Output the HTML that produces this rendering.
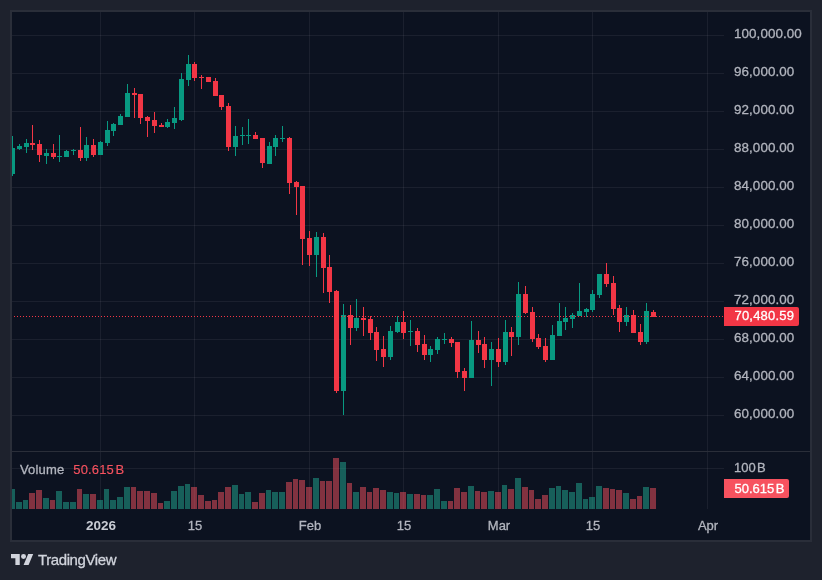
<!DOCTYPE html>
<html><head><meta charset="utf-8"><title>Chart</title>
<style>
html,body{margin:0;padding:0;}
body{width:822px;height:580px;background:#1e222d;position:relative;overflow:hidden;font-family:"Liberation Sans",sans-serif;}
#frame{position:absolute;left:10px;top:10px;width:798px;height:528px;border:2px solid #2a2e39;background:#0c1220;}
#chart{position:absolute;left:0;top:0;}
.pl,.tl,#pricetag,#voltag,#vol100,#vlabel,#logotxt{will-change:transform;-webkit-text-stroke:0.3px currentColor;}
.pl{position:absolute;left:733.7px;height:18px;line-height:18px;font-size:13.4px;letter-spacing:0.08px;color:#b2b5be;white-space:nowrap;}
.tl{position:absolute;top:517px;width:60px;text-align:center;height:18px;line-height:18px;font-size:13px;color:#b2b5be;white-space:nowrap;}
.tl.b{font-weight:bold;color:#c9ccd4;font-size:13.5px;-webkit-text-stroke:0;}
#pricetag{position:absolute;left:724px;top:307px;width:75px;height:19px;background:#f23645;border-radius:0 2px 2px 0;color:#fff;font-size:13px;letter-spacing:0.2px;line-height:17px;box-sizing:border-box;padding-left:10.5px;white-space:nowrap;}
#voltag{position:absolute;left:724px;top:479px;width:65px;height:19px;background:#f7525f;border-radius:0 2px 2px 0;color:#fff;font-size:13px;line-height:19px;box-sizing:border-box;padding-left:10.5px;white-space:nowrap;}
#vol100{position:absolute;left:733.5px;top:459px;height:18px;line-height:18px;font-size:13px;color:#b2b5be;white-space:nowrap;}
#vlabel{position:absolute;left:20px;top:461px;height:18px;line-height:18px;font-size:13px;letter-spacing:0.15px;color:#b2b5be;white-space:nowrap;}
#vlabel span{color:#f7525f;margin-left:9px;-webkit-text-stroke:0.15px currentColor;}
.ts{font-size:5px;}
#logo{position:absolute;left:11px;top:553.8px;}
#logotxt{position:absolute;left:37.5px;top:551px;height:18px;line-height:18px;font-size:15px;letter-spacing:-0.4px;color:#d1d4dc;white-space:nowrap;}
</style></head><body>
<div id="frame"></div>
<svg id="chart" width="822" height="580" viewBox="0 0 822 580" shape-rendering="crispEdges">
<rect x="12" y="35" width="712" height="1" fill="rgba(240,243,250,0.068)"/>
<rect x="12" y="73" width="712" height="1" fill="rgba(240,243,250,0.068)"/>
<rect x="12" y="111" width="712" height="1" fill="rgba(240,243,250,0.068)"/>
<rect x="12" y="149" width="712" height="1" fill="rgba(240,243,250,0.068)"/>
<rect x="12" y="187" width="712" height="1" fill="rgba(240,243,250,0.068)"/>
<rect x="12" y="225" width="712" height="1" fill="rgba(240,243,250,0.068)"/>
<rect x="12" y="263" width="712" height="1" fill="rgba(240,243,250,0.068)"/>
<rect x="12" y="301" width="712" height="1" fill="rgba(240,243,250,0.068)"/>
<rect x="12" y="339" width="712" height="1" fill="rgba(240,243,250,0.068)"/>
<rect x="12" y="377" width="712" height="1" fill="rgba(240,243,250,0.068)"/>
<rect x="12" y="415" width="712" height="1" fill="rgba(240,243,250,0.068)"/>
<rect x="12" y="468" width="712" height="1" fill="rgba(240,243,250,0.068)"/>
<rect x="100" y="12" width="1" height="497" fill="rgba(240,243,250,0.068)"/>
<rect x="194" y="12" width="1" height="497" fill="rgba(240,243,250,0.068)"/>
<rect x="309" y="12" width="1" height="497" fill="rgba(240,243,250,0.068)"/>
<rect x="403" y="12" width="1" height="497" fill="rgba(240,243,250,0.068)"/>
<rect x="498" y="12" width="1" height="497" fill="rgba(240,243,250,0.068)"/>
<rect x="592" y="12" width="1" height="497" fill="rgba(240,243,250,0.068)"/>
<rect x="707" y="12" width="1" height="497" fill="rgba(240,243,250,0.068)"/>
<rect x="12" y="451" width="798" height="1" fill="#2a2e39"/>
<rect x="12" y="489" width="3" height="20" fill="rgba(34,171,148,0.5)"/>
<rect x="16" y="502" width="6" height="7" fill="rgba(34,171,148,0.5)"/>
<rect x="23" y="500" width="5" height="9" fill="rgba(34,171,148,0.5)"/>
<rect x="29" y="493" width="6" height="16" fill="rgba(247,82,95,0.5)"/>
<rect x="36" y="490" width="6" height="19" fill="rgba(247,82,95,0.5)"/>
<rect x="43" y="498" width="6" height="11" fill="rgba(34,171,148,0.5)"/>
<rect x="50" y="500" width="5" height="9" fill="rgba(247,82,95,0.5)"/>
<rect x="56" y="491" width="6" height="18" fill="rgba(34,171,148,0.5)"/>
<rect x="63" y="502" width="6" height="7" fill="rgba(34,171,148,0.5)"/>
<rect x="70" y="502" width="6" height="7" fill="rgba(34,171,148,0.5)"/>
<rect x="77" y="489" width="5" height="20" fill="rgba(247,82,95,0.5)"/>
<rect x="83" y="494" width="6" height="15" fill="rgba(34,171,148,0.5)"/>
<rect x="90" y="494" width="6" height="15" fill="rgba(247,82,95,0.5)"/>
<rect x="97" y="500" width="6" height="9" fill="rgba(34,171,148,0.5)"/>
<rect x="104" y="489" width="5" height="20" fill="rgba(34,171,148,0.5)"/>
<rect x="110" y="500" width="6" height="9" fill="rgba(34,171,148,0.5)"/>
<rect x="117" y="497" width="6" height="12" fill="rgba(34,171,148,0.5)"/>
<rect x="124" y="487" width="6" height="22" fill="rgba(34,171,148,0.5)"/>
<rect x="131" y="487" width="5" height="22" fill="rgba(247,82,95,0.5)"/>
<rect x="137" y="491" width="6" height="18" fill="rgba(247,82,95,0.5)"/>
<rect x="144" y="491" width="6" height="18" fill="rgba(247,82,95,0.5)"/>
<rect x="151" y="493" width="6" height="16" fill="rgba(247,82,95,0.5)"/>
<rect x="158" y="503" width="5" height="6" fill="rgba(247,82,95,0.5)"/>
<rect x="164" y="501" width="6" height="8" fill="rgba(34,171,148,0.5)"/>
<rect x="171" y="491" width="6" height="18" fill="rgba(34,171,148,0.5)"/>
<rect x="178" y="486" width="6" height="23" fill="rgba(34,171,148,0.5)"/>
<rect x="185" y="484" width="5" height="25" fill="rgba(34,171,148,0.5)"/>
<rect x="191" y="487" width="6" height="22" fill="rgba(247,82,95,0.5)"/>
<rect x="198" y="495" width="6" height="14" fill="rgba(247,82,95,0.5)"/>
<rect x="205" y="501" width="6" height="8" fill="rgba(247,82,95,0.5)"/>
<rect x="212" y="500" width="5" height="9" fill="rgba(247,82,95,0.5)"/>
<rect x="218" y="492" width="6" height="17" fill="rgba(247,82,95,0.5)"/>
<rect x="225" y="487" width="6" height="22" fill="rgba(247,82,95,0.5)"/>
<rect x="232" y="485" width="6" height="24" fill="rgba(34,171,148,0.5)"/>
<rect x="239" y="494" width="5" height="15" fill="rgba(34,171,148,0.5)"/>
<rect x="245" y="492" width="6" height="17" fill="rgba(34,171,148,0.5)"/>
<rect x="252" y="502" width="6" height="7" fill="rgba(247,82,95,0.5)"/>
<rect x="259" y="493" width="6" height="16" fill="rgba(247,82,95,0.5)"/>
<rect x="266" y="490" width="5" height="19" fill="rgba(34,171,148,0.5)"/>
<rect x="272" y="492" width="6" height="17" fill="rgba(34,171,148,0.5)"/>
<rect x="279" y="492" width="6" height="17" fill="rgba(34,171,148,0.5)"/>
<rect x="286" y="482" width="6" height="27" fill="rgba(247,82,95,0.5)"/>
<rect x="293" y="479" width="5" height="30" fill="rgba(247,82,95,0.5)"/>
<rect x="299" y="480" width="6" height="29" fill="rgba(247,82,95,0.5)"/>
<rect x="306" y="487" width="6" height="22" fill="rgba(247,82,95,0.5)"/>
<rect x="313" y="478" width="6" height="31" fill="rgba(34,171,148,0.5)"/>
<rect x="320" y="481" width="5" height="28" fill="rgba(247,82,95,0.5)"/>
<rect x="326" y="481" width="6" height="28" fill="rgba(247,82,95,0.5)"/>
<rect x="333" y="458" width="6" height="51" fill="rgba(247,82,95,0.5)"/>
<rect x="340" y="462" width="6" height="47" fill="rgba(34,171,148,0.5)"/>
<rect x="347" y="483" width="5" height="26" fill="rgba(247,82,95,0.5)"/>
<rect x="353" y="492" width="6" height="17" fill="rgba(34,171,148,0.5)"/>
<rect x="360" y="487" width="6" height="22" fill="rgba(247,82,95,0.5)"/>
<rect x="367" y="492" width="5" height="17" fill="rgba(247,82,95,0.5)"/>
<rect x="373" y="488" width="6" height="21" fill="rgba(247,82,95,0.5)"/>
<rect x="380" y="490" width="6" height="19" fill="rgba(247,82,95,0.5)"/>
<rect x="387" y="492" width="6" height="17" fill="rgba(34,171,148,0.5)"/>
<rect x="394" y="493" width="5" height="16" fill="rgba(34,171,148,0.5)"/>
<rect x="400" y="492" width="6" height="17" fill="rgba(247,82,95,0.5)"/>
<rect x="407" y="494" width="6" height="15" fill="rgba(34,171,148,0.5)"/>
<rect x="414" y="494" width="6" height="15" fill="rgba(247,82,95,0.5)"/>
<rect x="421" y="495" width="5" height="14" fill="rgba(247,82,95,0.5)"/>
<rect x="427" y="495" width="6" height="14" fill="rgba(34,171,148,0.5)"/>
<rect x="434" y="489" width="6" height="20" fill="rgba(34,171,148,0.5)"/>
<rect x="441" y="501" width="6" height="8" fill="rgba(34,171,148,0.5)"/>
<rect x="448" y="501" width="5" height="8" fill="rgba(247,82,95,0.5)"/>
<rect x="454" y="488" width="6" height="21" fill="rgba(247,82,95,0.5)"/>
<rect x="461" y="492" width="6" height="17" fill="rgba(247,82,95,0.5)"/>
<rect x="468" y="486" width="6" height="23" fill="rgba(34,171,148,0.5)"/>
<rect x="475" y="491" width="5" height="18" fill="rgba(247,82,95,0.5)"/>
<rect x="481" y="492" width="6" height="17" fill="rgba(247,82,95,0.5)"/>
<rect x="488" y="491" width="6" height="18" fill="rgba(34,171,148,0.5)"/>
<rect x="495" y="492" width="6" height="17" fill="rgba(247,82,95,0.5)"/>
<rect x="502" y="485" width="5" height="24" fill="rgba(34,171,148,0.5)"/>
<rect x="508" y="489" width="6" height="20" fill="rgba(247,82,95,0.5)"/>
<rect x="515" y="478" width="6" height="31" fill="rgba(34,171,148,0.5)"/>
<rect x="522" y="487" width="6" height="22" fill="rgba(247,82,95,0.5)"/>
<rect x="529" y="490" width="5" height="19" fill="rgba(247,82,95,0.5)"/>
<rect x="535" y="499" width="6" height="10" fill="rgba(247,82,95,0.5)"/>
<rect x="542" y="495" width="6" height="14" fill="rgba(247,82,95,0.5)"/>
<rect x="549" y="488" width="6" height="21" fill="rgba(34,171,148,0.5)"/>
<rect x="556" y="486" width="5" height="23" fill="rgba(34,171,148,0.5)"/>
<rect x="562" y="490" width="6" height="19" fill="rgba(34,171,148,0.5)"/>
<rect x="569" y="492" width="6" height="17" fill="rgba(34,171,148,0.5)"/>
<rect x="576" y="483" width="6" height="26" fill="rgba(34,171,148,0.5)"/>
<rect x="583" y="499" width="5" height="10" fill="rgba(34,171,148,0.5)"/>
<rect x="589" y="497" width="6" height="12" fill="rgba(34,171,148,0.5)"/>
<rect x="596" y="486" width="6" height="23" fill="rgba(34,171,148,0.5)"/>
<rect x="603" y="488" width="6" height="21" fill="rgba(247,82,95,0.5)"/>
<rect x="610" y="489" width="5" height="20" fill="rgba(247,82,95,0.5)"/>
<rect x="616" y="490" width="6" height="19" fill="rgba(247,82,95,0.5)"/>
<rect x="623" y="493" width="6" height="16" fill="rgba(34,171,148,0.5)"/>
<rect x="630" y="499" width="6" height="10" fill="rgba(247,82,95,0.5)"/>
<rect x="637" y="496" width="5" height="13" fill="rgba(247,82,95,0.5)"/>
<rect x="643" y="487" width="6" height="22" fill="rgba(34,171,148,0.5)"/>
<rect x="650" y="488" width="6" height="21" fill="rgba(247,82,95,0.5)"/>
<rect x="12" y="136" width="1" height="40" fill="#089981"/>
<rect x="12" y="148" width="3" height="26" fill="#089981"/>
<rect x="19" y="144" width="1" height="6" fill="#089981"/>
<rect x="17" y="146" width="5" height="3" fill="#089981"/>
<rect x="26" y="139" width="1" height="14" fill="#089981"/>
<rect x="24" y="143" width="5" height="4" fill="#089981"/>
<rect x="32" y="125" width="1" height="25" fill="#f23645"/>
<rect x="30" y="143" width="5" height="2" fill="#f23645"/>
<rect x="39" y="140" width="1" height="22" fill="#f23645"/>
<rect x="37" y="144" width="5" height="11" fill="#f23645"/>
<rect x="46" y="149" width="1" height="15" fill="#089981"/>
<rect x="44" y="153" width="5" height="3" fill="#089981"/>
<rect x="53" y="144" width="1" height="15" fill="#f23645"/>
<rect x="51" y="153" width="5" height="4" fill="#f23645"/>
<rect x="59" y="135" width="1" height="27" fill="#089981"/>
<rect x="57" y="156" width="5" height="1" fill="#089981"/>
<rect x="66" y="150" width="1" height="7" fill="#089981"/>
<rect x="64" y="151" width="5" height="6" fill="#089981"/>
<rect x="73" y="149" width="1" height="6" fill="#089981"/>
<rect x="71" y="150" width="5" height="1" fill="#089981"/>
<rect x="80" y="127" width="1" height="34" fill="#f23645"/>
<rect x="78" y="150" width="5" height="8" fill="#f23645"/>
<rect x="86" y="137" width="1" height="24" fill="#089981"/>
<rect x="84" y="145" width="5" height="13" fill="#089981"/>
<rect x="93" y="139" width="1" height="18" fill="#f23645"/>
<rect x="91" y="145" width="5" height="10" fill="#f23645"/>
<rect x="100" y="141" width="1" height="14" fill="#089981"/>
<rect x="98" y="142" width="5" height="13" fill="#089981"/>
<rect x="107" y="121" width="1" height="25" fill="#089981"/>
<rect x="105" y="130" width="5" height="13" fill="#089981"/>
<rect x="113" y="123" width="1" height="13" fill="#089981"/>
<rect x="111" y="124" width="5" height="7" fill="#089981"/>
<rect x="120" y="114" width="1" height="11" fill="#089981"/>
<rect x="118" y="116" width="5" height="9" fill="#089981"/>
<rect x="127" y="84" width="1" height="33" fill="#089981"/>
<rect x="125" y="93" width="5" height="24" fill="#089981"/>
<rect x="134" y="88" width="1" height="30" fill="#f23645"/>
<rect x="132" y="93" width="5" height="2" fill="#f23645"/>
<rect x="140" y="94" width="1" height="30" fill="#f23645"/>
<rect x="138" y="94" width="5" height="24" fill="#f23645"/>
<rect x="147" y="116" width="1" height="21" fill="#f23645"/>
<rect x="145" y="117" width="5" height="4" fill="#f23645"/>
<rect x="154" y="112" width="1" height="21" fill="#f23645"/>
<rect x="152" y="120" width="5" height="6" fill="#f23645"/>
<rect x="161" y="123" width="1" height="4" fill="#f23645"/>
<rect x="159" y="125" width="5" height="2" fill="#f23645"/>
<rect x="167" y="119" width="1" height="9" fill="#089981"/>
<rect x="165" y="122" width="5" height="5" fill="#089981"/>
<rect x="174" y="107" width="1" height="22" fill="#089981"/>
<rect x="172" y="118" width="5" height="5" fill="#089981"/>
<rect x="181" y="73" width="1" height="48" fill="#089981"/>
<rect x="179" y="79" width="5" height="41" fill="#089981"/>
<rect x="188" y="55" width="1" height="31" fill="#089981"/>
<rect x="186" y="64" width="5" height="16" fill="#089981"/>
<rect x="194" y="62" width="1" height="19" fill="#f23645"/>
<rect x="192" y="64" width="5" height="14" fill="#f23645"/>
<rect x="201" y="75" width="1" height="14" fill="#f23645"/>
<rect x="199" y="77" width="5" height="1" fill="#f23645"/>
<rect x="208" y="77" width="1" height="5" fill="#f23645"/>
<rect x="206" y="77" width="5" height="5" fill="#f23645"/>
<rect x="215" y="78" width="1" height="18" fill="#f23645"/>
<rect x="213" y="81" width="5" height="15" fill="#f23645"/>
<rect x="221" y="95" width="1" height="15" fill="#f23645"/>
<rect x="219" y="95" width="5" height="12" fill="#f23645"/>
<rect x="228" y="103" width="1" height="48" fill="#f23645"/>
<rect x="226" y="106" width="5" height="41" fill="#f23645"/>
<rect x="235" y="126" width="1" height="30" fill="#089981"/>
<rect x="233" y="136" width="5" height="11" fill="#089981"/>
<rect x="242" y="127" width="1" height="18" fill="#089981"/>
<rect x="240" y="135" width="5" height="1" fill="#089981"/>
<rect x="248" y="119" width="1" height="25" fill="#089981"/>
<rect x="246" y="135" width="5" height="1" fill="#089981"/>
<rect x="255" y="132" width="1" height="7" fill="#f23645"/>
<rect x="253" y="135" width="5" height="4" fill="#f23645"/>
<rect x="262" y="138" width="1" height="30" fill="#f23645"/>
<rect x="260" y="138" width="5" height="25" fill="#f23645"/>
<rect x="269" y="142" width="1" height="22" fill="#089981"/>
<rect x="267" y="146" width="5" height="18" fill="#089981"/>
<rect x="275" y="135" width="1" height="21" fill="#089981"/>
<rect x="273" y="138" width="5" height="9" fill="#089981"/>
<rect x="282" y="126" width="1" height="16" fill="#089981"/>
<rect x="280" y="138" width="5" height="1" fill="#089981"/>
<rect x="289" y="137" width="1" height="57" fill="#f23645"/>
<rect x="287" y="138" width="5" height="45" fill="#f23645"/>
<rect x="296" y="181" width="1" height="34" fill="#f23645"/>
<rect x="294" y="182" width="5" height="5" fill="#f23645"/>
<rect x="302" y="186" width="1" height="79" fill="#f23645"/>
<rect x="300" y="186" width="5" height="53" fill="#f23645"/>
<rect x="309" y="231" width="1" height="35" fill="#f23645"/>
<rect x="307" y="238" width="5" height="17" fill="#f23645"/>
<rect x="316" y="232" width="1" height="45" fill="#089981"/>
<rect x="314" y="237" width="5" height="18" fill="#089981"/>
<rect x="323" y="233" width="1" height="60" fill="#f23645"/>
<rect x="321" y="237" width="5" height="31" fill="#f23645"/>
<rect x="329" y="255" width="1" height="48" fill="#f23645"/>
<rect x="327" y="267" width="5" height="25" fill="#f23645"/>
<rect x="336" y="290" width="1" height="103" fill="#f23645"/>
<rect x="334" y="291" width="5" height="100" fill="#f23645"/>
<rect x="343" y="304" width="1" height="111" fill="#089981"/>
<rect x="341" y="315" width="5" height="76" fill="#089981"/>
<rect x="350" y="305" width="1" height="40" fill="#f23645"/>
<rect x="348" y="315" width="5" height="13" fill="#f23645"/>
<rect x="356" y="299" width="1" height="32" fill="#089981"/>
<rect x="354" y="318" width="5" height="10" fill="#089981"/>
<rect x="363" y="307" width="1" height="29" fill="#f23645"/>
<rect x="361" y="318" width="5" height="2" fill="#f23645"/>
<rect x="370" y="316" width="1" height="24" fill="#f23645"/>
<rect x="368" y="319" width="5" height="14" fill="#f23645"/>
<rect x="376" y="327" width="1" height="34" fill="#f23645"/>
<rect x="374" y="332" width="5" height="18" fill="#f23645"/>
<rect x="383" y="336" width="1" height="31" fill="#f23645"/>
<rect x="381" y="349" width="5" height="8" fill="#f23645"/>
<rect x="390" y="326" width="1" height="34" fill="#089981"/>
<rect x="388" y="331" width="5" height="26" fill="#089981"/>
<rect x="397" y="316" width="1" height="17" fill="#089981"/>
<rect x="395" y="322" width="5" height="10" fill="#089981"/>
<rect x="403" y="311" width="1" height="28" fill="#f23645"/>
<rect x="401" y="322" width="5" height="11" fill="#f23645"/>
<rect x="410" y="320" width="1" height="26" fill="#089981"/>
<rect x="408" y="331" width="5" height="1" fill="#089981"/>
<rect x="417" y="328" width="1" height="24" fill="#f23645"/>
<rect x="415" y="331" width="5" height="14" fill="#f23645"/>
<rect x="424" y="335" width="1" height="25" fill="#f23645"/>
<rect x="422" y="344" width="5" height="11" fill="#f23645"/>
<rect x="430" y="346" width="1" height="16" fill="#089981"/>
<rect x="428" y="349" width="5" height="6" fill="#089981"/>
<rect x="437" y="337" width="1" height="17" fill="#089981"/>
<rect x="435" y="339" width="5" height="11" fill="#089981"/>
<rect x="444" y="333" width="1" height="11" fill="#089981"/>
<rect x="442" y="339" width="5" height="1" fill="#089981"/>
<rect x="451" y="337" width="1" height="10" fill="#f23645"/>
<rect x="449" y="339" width="5" height="4" fill="#f23645"/>
<rect x="457" y="342" width="1" height="36" fill="#f23645"/>
<rect x="455" y="342" width="5" height="30" fill="#f23645"/>
<rect x="464" y="368" width="1" height="23" fill="#f23645"/>
<rect x="462" y="371" width="5" height="7" fill="#f23645"/>
<rect x="471" y="321" width="1" height="57" fill="#089981"/>
<rect x="469" y="340" width="5" height="38" fill="#089981"/>
<rect x="478" y="331" width="1" height="22" fill="#f23645"/>
<rect x="476" y="340" width="5" height="5" fill="#f23645"/>
<rect x="484" y="337" width="1" height="31" fill="#f23645"/>
<rect x="482" y="344" width="5" height="16" fill="#f23645"/>
<rect x="491" y="342" width="1" height="44" fill="#089981"/>
<rect x="489" y="349" width="5" height="11" fill="#089981"/>
<rect x="498" y="338" width="1" height="29" fill="#f23645"/>
<rect x="496" y="349" width="5" height="13" fill="#f23645"/>
<rect x="505" y="320" width="1" height="45" fill="#089981"/>
<rect x="503" y="332" width="5" height="30" fill="#089981"/>
<rect x="511" y="327" width="1" height="29" fill="#f23645"/>
<rect x="509" y="332" width="5" height="5" fill="#f23645"/>
<rect x="518" y="282" width="1" height="63" fill="#089981"/>
<rect x="516" y="294" width="5" height="43" fill="#089981"/>
<rect x="525" y="286" width="1" height="28" fill="#f23645"/>
<rect x="523" y="294" width="5" height="19" fill="#f23645"/>
<rect x="532" y="307" width="1" height="35" fill="#f23645"/>
<rect x="530" y="312" width="5" height="27" fill="#f23645"/>
<rect x="538" y="334" width="1" height="15" fill="#f23645"/>
<rect x="536" y="338" width="5" height="9" fill="#f23645"/>
<rect x="545" y="338" width="1" height="24" fill="#f23645"/>
<rect x="543" y="346" width="5" height="14" fill="#f23645"/>
<rect x="552" y="325" width="1" height="35" fill="#089981"/>
<rect x="550" y="335" width="5" height="25" fill="#089981"/>
<rect x="559" y="303" width="1" height="33" fill="#089981"/>
<rect x="557" y="321" width="5" height="15" fill="#089981"/>
<rect x="565" y="307" width="1" height="23" fill="#089981"/>
<rect x="563" y="318" width="5" height="4" fill="#089981"/>
<rect x="572" y="313" width="1" height="15" fill="#089981"/>
<rect x="570" y="315" width="5" height="4" fill="#089981"/>
<rect x="579" y="283" width="1" height="33" fill="#089981"/>
<rect x="577" y="311" width="5" height="5" fill="#089981"/>
<rect x="586" y="308" width="1" height="9" fill="#089981"/>
<rect x="584" y="309" width="5" height="3" fill="#089981"/>
<rect x="592" y="290" width="1" height="22" fill="#089981"/>
<rect x="590" y="294" width="5" height="16" fill="#089981"/>
<rect x="599" y="274" width="1" height="24" fill="#089981"/>
<rect x="597" y="274" width="5" height="21" fill="#089981"/>
<rect x="606" y="263" width="1" height="24" fill="#f23645"/>
<rect x="604" y="274" width="5" height="10" fill="#f23645"/>
<rect x="613" y="276" width="1" height="39" fill="#f23645"/>
<rect x="611" y="283" width="5" height="26" fill="#f23645"/>
<rect x="619" y="305" width="1" height="27" fill="#f23645"/>
<rect x="617" y="308" width="5" height="14" fill="#f23645"/>
<rect x="626" y="307" width="1" height="19" fill="#089981"/>
<rect x="624" y="315" width="5" height="7" fill="#089981"/>
<rect x="633" y="310" width="1" height="23" fill="#f23645"/>
<rect x="631" y="315" width="5" height="18" fill="#f23645"/>
<rect x="640" y="324" width="1" height="21" fill="#f23645"/>
<rect x="638" y="332" width="5" height="10" fill="#f23645"/>
<rect x="646" y="303" width="1" height="41" fill="#089981"/>
<rect x="644" y="311" width="5" height="31" fill="#089981"/>
<rect x="653" y="310" width="1" height="7" fill="#f23645"/>
<rect x="651" y="312" width="5" height="5" fill="#f23645"/>
<rect x="14" y="316" width="1" height="1" fill="#f23645"/><rect x="17" y="316" width="1" height="1" fill="#f23645"/><rect x="20" y="316" width="1" height="1" fill="#f23645"/><rect x="23" y="316" width="1" height="1" fill="#f23645"/><rect x="26" y="316" width="1" height="1" fill="#f23645"/><rect x="29" y="316" width="1" height="1" fill="#f23645"/><rect x="32" y="316" width="1" height="1" fill="#f23645"/><rect x="35" y="316" width="1" height="1" fill="#f23645"/><rect x="38" y="316" width="1" height="1" fill="#f23645"/><rect x="41" y="316" width="1" height="1" fill="#f23645"/><rect x="44" y="316" width="1" height="1" fill="#f23645"/><rect x="47" y="316" width="1" height="1" fill="#f23645"/><rect x="50" y="316" width="1" height="1" fill="#f23645"/><rect x="53" y="316" width="1" height="1" fill="#f23645"/><rect x="56" y="316" width="1" height="1" fill="#f23645"/><rect x="59" y="316" width="1" height="1" fill="#f23645"/><rect x="62" y="316" width="1" height="1" fill="#f23645"/><rect x="65" y="316" width="1" height="1" fill="#f23645"/><rect x="68" y="316" width="1" height="1" fill="#f23645"/><rect x="71" y="316" width="1" height="1" fill="#f23645"/><rect x="74" y="316" width="1" height="1" fill="#f23645"/><rect x="77" y="316" width="1" height="1" fill="#f23645"/><rect x="80" y="316" width="1" height="1" fill="#f23645"/><rect x="83" y="316" width="1" height="1" fill="#f23645"/><rect x="86" y="316" width="1" height="1" fill="#f23645"/><rect x="89" y="316" width="1" height="1" fill="#f23645"/><rect x="92" y="316" width="1" height="1" fill="#f23645"/><rect x="95" y="316" width="1" height="1" fill="#f23645"/><rect x="98" y="316" width="1" height="1" fill="#f23645"/><rect x="101" y="316" width="1" height="1" fill="#f23645"/><rect x="104" y="316" width="1" height="1" fill="#f23645"/><rect x="107" y="316" width="1" height="1" fill="#f23645"/><rect x="110" y="316" width="1" height="1" fill="#f23645"/><rect x="113" y="316" width="1" height="1" fill="#f23645"/><rect x="116" y="316" width="1" height="1" fill="#f23645"/><rect x="119" y="316" width="1" height="1" fill="#f23645"/><rect x="122" y="316" width="1" height="1" fill="#f23645"/><rect x="125" y="316" width="1" height="1" fill="#f23645"/><rect x="128" y="316" width="1" height="1" fill="#f23645"/><rect x="131" y="316" width="1" height="1" fill="#f23645"/><rect x="134" y="316" width="1" height="1" fill="#f23645"/><rect x="137" y="316" width="1" height="1" fill="#f23645"/><rect x="140" y="316" width="1" height="1" fill="#f23645"/><rect x="143" y="316" width="1" height="1" fill="#f23645"/><rect x="146" y="316" width="1" height="1" fill="#f23645"/><rect x="149" y="316" width="1" height="1" fill="#f23645"/><rect x="152" y="316" width="1" height="1" fill="#f23645"/><rect x="155" y="316" width="1" height="1" fill="#f23645"/><rect x="158" y="316" width="1" height="1" fill="#f23645"/><rect x="161" y="316" width="1" height="1" fill="#f23645"/><rect x="164" y="316" width="1" height="1" fill="#f23645"/><rect x="167" y="316" width="1" height="1" fill="#f23645"/><rect x="170" y="316" width="1" height="1" fill="#f23645"/><rect x="173" y="316" width="1" height="1" fill="#f23645"/><rect x="176" y="316" width="1" height="1" fill="#f23645"/><rect x="179" y="316" width="1" height="1" fill="#f23645"/><rect x="182" y="316" width="1" height="1" fill="#f23645"/><rect x="185" y="316" width="1" height="1" fill="#f23645"/><rect x="188" y="316" width="1" height="1" fill="#f23645"/><rect x="191" y="316" width="1" height="1" fill="#f23645"/><rect x="194" y="316" width="1" height="1" fill="#f23645"/><rect x="197" y="316" width="1" height="1" fill="#f23645"/><rect x="200" y="316" width="1" height="1" fill="#f23645"/><rect x="203" y="316" width="1" height="1" fill="#f23645"/><rect x="206" y="316" width="1" height="1" fill="#f23645"/><rect x="209" y="316" width="1" height="1" fill="#f23645"/><rect x="212" y="316" width="1" height="1" fill="#f23645"/><rect x="215" y="316" width="1" height="1" fill="#f23645"/><rect x="218" y="316" width="1" height="1" fill="#f23645"/><rect x="221" y="316" width="1" height="1" fill="#f23645"/><rect x="224" y="316" width="1" height="1" fill="#f23645"/><rect x="227" y="316" width="1" height="1" fill="#f23645"/><rect x="230" y="316" width="1" height="1" fill="#f23645"/><rect x="233" y="316" width="1" height="1" fill="#f23645"/><rect x="236" y="316" width="1" height="1" fill="#f23645"/><rect x="239" y="316" width="1" height="1" fill="#f23645"/><rect x="242" y="316" width="1" height="1" fill="#f23645"/><rect x="245" y="316" width="1" height="1" fill="#f23645"/><rect x="248" y="316" width="1" height="1" fill="#f23645"/><rect x="251" y="316" width="1" height="1" fill="#f23645"/><rect x="254" y="316" width="1" height="1" fill="#f23645"/><rect x="257" y="316" width="1" height="1" fill="#f23645"/><rect x="260" y="316" width="1" height="1" fill="#f23645"/><rect x="263" y="316" width="1" height="1" fill="#f23645"/><rect x="266" y="316" width="1" height="1" fill="#f23645"/><rect x="269" y="316" width="1" height="1" fill="#f23645"/><rect x="272" y="316" width="1" height="1" fill="#f23645"/><rect x="275" y="316" width="1" height="1" fill="#f23645"/><rect x="278" y="316" width="1" height="1" fill="#f23645"/><rect x="281" y="316" width="1" height="1" fill="#f23645"/><rect x="284" y="316" width="1" height="1" fill="#f23645"/><rect x="287" y="316" width="1" height="1" fill="#f23645"/><rect x="290" y="316" width="1" height="1" fill="#f23645"/><rect x="293" y="316" width="1" height="1" fill="#f23645"/><rect x="296" y="316" width="1" height="1" fill="#f23645"/><rect x="299" y="316" width="1" height="1" fill="#f23645"/><rect x="302" y="316" width="1" height="1" fill="#f23645"/><rect x="305" y="316" width="1" height="1" fill="#f23645"/><rect x="308" y="316" width="1" height="1" fill="#f23645"/><rect x="311" y="316" width="1" height="1" fill="#f23645"/><rect x="314" y="316" width="1" height="1" fill="#f23645"/><rect x="317" y="316" width="1" height="1" fill="#f23645"/><rect x="320" y="316" width="1" height="1" fill="#f23645"/><rect x="323" y="316" width="1" height="1" fill="#f23645"/><rect x="326" y="316" width="1" height="1" fill="#f23645"/><rect x="329" y="316" width="1" height="1" fill="#f23645"/><rect x="332" y="316" width="1" height="1" fill="#f23645"/><rect x="335" y="316" width="1" height="1" fill="#f23645"/><rect x="338" y="316" width="1" height="1" fill="#f23645"/><rect x="341" y="316" width="1" height="1" fill="#f23645"/><rect x="344" y="316" width="1" height="1" fill="#f23645"/><rect x="347" y="316" width="1" height="1" fill="#f23645"/><rect x="350" y="316" width="1" height="1" fill="#f23645"/><rect x="353" y="316" width="1" height="1" fill="#f23645"/><rect x="356" y="316" width="1" height="1" fill="#f23645"/><rect x="359" y="316" width="1" height="1" fill="#f23645"/><rect x="362" y="316" width="1" height="1" fill="#f23645"/><rect x="365" y="316" width="1" height="1" fill="#f23645"/><rect x="368" y="316" width="1" height="1" fill="#f23645"/><rect x="371" y="316" width="1" height="1" fill="#f23645"/><rect x="374" y="316" width="1" height="1" fill="#f23645"/><rect x="377" y="316" width="1" height="1" fill="#f23645"/><rect x="380" y="316" width="1" height="1" fill="#f23645"/><rect x="383" y="316" width="1" height="1" fill="#f23645"/><rect x="386" y="316" width="1" height="1" fill="#f23645"/><rect x="389" y="316" width="1" height="1" fill="#f23645"/><rect x="392" y="316" width="1" height="1" fill="#f23645"/><rect x="395" y="316" width="1" height="1" fill="#f23645"/><rect x="398" y="316" width="1" height="1" fill="#f23645"/><rect x="401" y="316" width="1" height="1" fill="#f23645"/><rect x="404" y="316" width="1" height="1" fill="#f23645"/><rect x="407" y="316" width="1" height="1" fill="#f23645"/><rect x="410" y="316" width="1" height="1" fill="#f23645"/><rect x="413" y="316" width="1" height="1" fill="#f23645"/><rect x="416" y="316" width="1" height="1" fill="#f23645"/><rect x="419" y="316" width="1" height="1" fill="#f23645"/><rect x="422" y="316" width="1" height="1" fill="#f23645"/><rect x="425" y="316" width="1" height="1" fill="#f23645"/><rect x="428" y="316" width="1" height="1" fill="#f23645"/><rect x="431" y="316" width="1" height="1" fill="#f23645"/><rect x="434" y="316" width="1" height="1" fill="#f23645"/><rect x="437" y="316" width="1" height="1" fill="#f23645"/><rect x="440" y="316" width="1" height="1" fill="#f23645"/><rect x="443" y="316" width="1" height="1" fill="#f23645"/><rect x="446" y="316" width="1" height="1" fill="#f23645"/><rect x="449" y="316" width="1" height="1" fill="#f23645"/><rect x="452" y="316" width="1" height="1" fill="#f23645"/><rect x="455" y="316" width="1" height="1" fill="#f23645"/><rect x="458" y="316" width="1" height="1" fill="#f23645"/><rect x="461" y="316" width="1" height="1" fill="#f23645"/><rect x="464" y="316" width="1" height="1" fill="#f23645"/><rect x="467" y="316" width="1" height="1" fill="#f23645"/><rect x="470" y="316" width="1" height="1" fill="#f23645"/><rect x="473" y="316" width="1" height="1" fill="#f23645"/><rect x="476" y="316" width="1" height="1" fill="#f23645"/><rect x="479" y="316" width="1" height="1" fill="#f23645"/><rect x="482" y="316" width="1" height="1" fill="#f23645"/><rect x="485" y="316" width="1" height="1" fill="#f23645"/><rect x="488" y="316" width="1" height="1" fill="#f23645"/><rect x="491" y="316" width="1" height="1" fill="#f23645"/><rect x="494" y="316" width="1" height="1" fill="#f23645"/><rect x="497" y="316" width="1" height="1" fill="#f23645"/><rect x="500" y="316" width="1" height="1" fill="#f23645"/><rect x="503" y="316" width="1" height="1" fill="#f23645"/><rect x="506" y="316" width="1" height="1" fill="#f23645"/><rect x="509" y="316" width="1" height="1" fill="#f23645"/><rect x="512" y="316" width="1" height="1" fill="#f23645"/><rect x="515" y="316" width="1" height="1" fill="#f23645"/><rect x="518" y="316" width="1" height="1" fill="#f23645"/><rect x="521" y="316" width="1" height="1" fill="#f23645"/><rect x="524" y="316" width="1" height="1" fill="#f23645"/><rect x="527" y="316" width="1" height="1" fill="#f23645"/><rect x="530" y="316" width="1" height="1" fill="#f23645"/><rect x="533" y="316" width="1" height="1" fill="#f23645"/><rect x="536" y="316" width="1" height="1" fill="#f23645"/><rect x="539" y="316" width="1" height="1" fill="#f23645"/><rect x="542" y="316" width="1" height="1" fill="#f23645"/><rect x="545" y="316" width="1" height="1" fill="#f23645"/><rect x="548" y="316" width="1" height="1" fill="#f23645"/><rect x="551" y="316" width="1" height="1" fill="#f23645"/><rect x="554" y="316" width="1" height="1" fill="#f23645"/><rect x="557" y="316" width="1" height="1" fill="#f23645"/><rect x="560" y="316" width="1" height="1" fill="#f23645"/><rect x="563" y="316" width="1" height="1" fill="#f23645"/><rect x="566" y="316" width="1" height="1" fill="#f23645"/><rect x="569" y="316" width="1" height="1" fill="#f23645"/><rect x="572" y="316" width="1" height="1" fill="#f23645"/><rect x="575" y="316" width="1" height="1" fill="#f23645"/><rect x="578" y="316" width="1" height="1" fill="#f23645"/><rect x="581" y="316" width="1" height="1" fill="#f23645"/><rect x="584" y="316" width="1" height="1" fill="#f23645"/><rect x="587" y="316" width="1" height="1" fill="#f23645"/><rect x="590" y="316" width="1" height="1" fill="#f23645"/><rect x="593" y="316" width="1" height="1" fill="#f23645"/><rect x="596" y="316" width="1" height="1" fill="#f23645"/><rect x="599" y="316" width="1" height="1" fill="#f23645"/><rect x="602" y="316" width="1" height="1" fill="#f23645"/><rect x="605" y="316" width="1" height="1" fill="#f23645"/><rect x="608" y="316" width="1" height="1" fill="#f23645"/><rect x="611" y="316" width="1" height="1" fill="#f23645"/><rect x="614" y="316" width="1" height="1" fill="#f23645"/><rect x="617" y="316" width="1" height="1" fill="#f23645"/><rect x="620" y="316" width="1" height="1" fill="#f23645"/><rect x="623" y="316" width="1" height="1" fill="#f23645"/><rect x="626" y="316" width="1" height="1" fill="#f23645"/><rect x="629" y="316" width="1" height="1" fill="#f23645"/><rect x="632" y="316" width="1" height="1" fill="#f23645"/><rect x="635" y="316" width="1" height="1" fill="#f23645"/><rect x="638" y="316" width="1" height="1" fill="#f23645"/><rect x="641" y="316" width="1" height="1" fill="#f23645"/><rect x="644" y="316" width="1" height="1" fill="#f23645"/><rect x="647" y="316" width="1" height="1" fill="#f23645"/><rect x="650" y="316" width="1" height="1" fill="#f23645"/><rect x="653" y="316" width="1" height="1" fill="#f23645"/><rect x="656" y="316" width="1" height="1" fill="#f23645"/><rect x="659" y="316" width="1" height="1" fill="#f23645"/><rect x="662" y="316" width="1" height="1" fill="#f23645"/><rect x="665" y="316" width="1" height="1" fill="#f23645"/><rect x="668" y="316" width="1" height="1" fill="#f23645"/><rect x="671" y="316" width="1" height="1" fill="#f23645"/><rect x="674" y="316" width="1" height="1" fill="#f23645"/><rect x="677" y="316" width="1" height="1" fill="#f23645"/><rect x="680" y="316" width="1" height="1" fill="#f23645"/><rect x="683" y="316" width="1" height="1" fill="#f23645"/><rect x="686" y="316" width="1" height="1" fill="#f23645"/><rect x="689" y="316" width="1" height="1" fill="#f23645"/><rect x="692" y="316" width="1" height="1" fill="#f23645"/><rect x="695" y="316" width="1" height="1" fill="#f23645"/><rect x="698" y="316" width="1" height="1" fill="#f23645"/><rect x="701" y="316" width="1" height="1" fill="#f23645"/><rect x="704" y="316" width="1" height="1" fill="#f23645"/><rect x="707" y="316" width="1" height="1" fill="#f23645"/><rect x="710" y="316" width="1" height="1" fill="#f23645"/><rect x="713" y="316" width="1" height="1" fill="#f23645"/><rect x="716" y="316" width="1" height="1" fill="#f23645"/><rect x="719" y="316" width="1" height="1" fill="#f23645"/><rect x="722" y="316" width="1" height="1" fill="#f23645"/>
</svg>
<div class="pl" style="top:25.2px">100,000.00</div>
<div class="pl" style="top:63.2px">96,000.00</div>
<div class="pl" style="top:101.2px">92,000.00</div>
<div class="pl" style="top:139.2px">88,000.00</div>
<div class="pl" style="top:177.2px">84,000.00</div>
<div class="pl" style="top:215.2px">80,000.00</div>
<div class="pl" style="top:253.2px">76,000.00</div>
<div class="pl" style="top:291.2px">72,000.00</div>
<div class="pl" style="top:329.2px">68,000.00</div>
<div class="pl" style="top:367.2px">64,000.00</div>
<div class="pl" style="top:405.2px">60,000.00</div>

<div class="tl b" style="left:70.5px">2026</div>
<div class="tl" style="left:164.5px">15</div>
<div class="tl" style="left:279.5px">Feb</div>
<div class="tl" style="left:373.5px">15</div>
<div class="tl" style="left:468.5px">Mar</div>
<div class="tl" style="left:562.5px">15</div>
<div class="tl" style="left:677.5px">Apr</div>

<div id="pricetag">70,480.59</div>
<div id="vol100">100<span class="ts">&nbsp;</span>B</div>
<div id="voltag">50.615<span class="ts">&nbsp;</span>B</div>
<div id="vlabel">Volume<span>50.615<span class="ts" style="margin:0;color:inherit">&nbsp;</span>B</span></div>
<svg id="logo" width="22.5" height="11.2" viewBox="0 4 36 18" preserveAspectRatio="none"><path fill="#d1d4dc" d="M14 22H7V11H0V4h14v18zM28 22h-8l7.5-18h8L28 22z"/><circle fill="#d1d4dc" cx="20" cy="8" r="4"/></svg>
<div id="logotxt">TradingView</div>
</body></html>
